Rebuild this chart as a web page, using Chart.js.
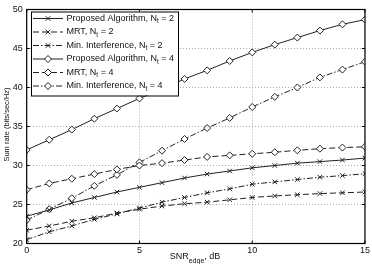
<!DOCTYPE html>
<html><head><meta charset="utf-8">
<script src="https://cdn.jsdelivr.net/npm/chart.js@4/dist/chart.umd.min.js"></script>
<style>html,body{margin:0;padding:0;background:#fff}#wrap{width:372px;height:264px}</style>
</head><body><div id="wrap"><canvas id="c" width="372" height="264"></canvas></div>
<script>
const snr = [0,1,2,3,4,5,6,7,8,9,10,11,12,13,14,15];
const propN2 = [23.5,24.3,25.2,25.9,26.6,27.2,27.8,28.4,28.9,29.3,29.7,30.0,30.3,30.5,30.7,30.95];
const mrtN2 = [21.7,22.25,22.85,23.3,23.9,24.4,24.8,25.1,25.3,25.6,25.9,26.1,26.25,26.4,26.5,26.6];
const minIntN2 = [20.5,21.5,22.25,23.1,23.8,24.55,25.3,25.9,26.5,27.0,27.6,27.9,28.2,28.5,28.7,28.95];
const propN4 = [32.0,33.3,34.6,36.0,37.3,38.6,39.8,41.1,42.2,43.4,44.5,45.5,46.4,47.3,48.1,48.7];
const mrtN4 = [26.9,27.7,28.3,28.9,29.5,30.0,30.3,30.7,31.1,31.3,31.5,31.7,31.95,32.15,32.3,32.4];
const minIntN4 = [23.0,24.4,25.8,27.4,28.8,30.4,31.9,33.4,34.8,36.1,37.5,38.8,40.0,41.3,42.3,43.3];
const xTicks = [0,5,10,15];
const yTicks = [20,25,30,35,40,45,50];
const seriesNames = ['Proposed Algorithm, N','MRT, N','Min. Interference, N','Proposed Algorithm, N','MRT, N','Min. Interference, N'];
const seriesNt = ['2','2','2','4','4','4'];
const xTitle = ['SNR','edge',', dB'];
const yTitle = 'Sum rate (bits/sec/Hz)';

const LINE = '#222';
const FONT = '"Liberation Sans", Arial, sans-serif';
const dashes = [[], [6,3], [6,2,1.5,2]];
function mk(data, i) {
  const n4 = i >= 3;
  return {
    label: seriesNames[i] + seriesNt[i],
    data: snr.map((x, k) => ({x: x, y: data[k]})),
    borderColor: LINE, backgroundColor: '#fff',
    borderWidth: 1, borderDash: dashes[i % 3],
    pointStyle: n4 ? 'rectRot' : 'crossRot',
    pointRadius: n4 ? 3.5 : 3.2,
    pointBorderColor: LINE, pointBackgroundColor: '#fff', pointBorderWidth: 1,
    tension: 0, fill: false
  };
}
const all = [propN2, mrtN2, minIntN2, propN4, mrtN4, minIntN4];

function drawMarker(ctx, style, x, y, r) {
  ctx.save();
  ctx.setLineDash([]);
  ctx.beginPath();
  if (style === 'rectRot') {
    ctx.moveTo(x, y - r); ctx.lineTo(x + r, y); ctx.lineTo(x, y + r); ctx.lineTo(x - r, y); ctx.closePath();
    ctx.fillStyle = '#fff'; ctx.fill(); ctx.stroke();
  } else {
    const d = r * Math.SQRT1_2;
    ctx.moveTo(x - d, y - d); ctx.lineTo(x + d, y + d);
    ctx.moveTo(x + d, y - d); ctx.lineTo(x - d, y + d);
    ctx.stroke();
  }
  ctx.restore();
}

const deco = {
  id: 'deco',
  afterDatasetsDraw(chart) {
    const ctx = chart.ctx, a = chart.chartArea;
    const xs = chart.scales.x, ys = chart.scales.y;
    ctx.save();
    ctx.strokeStyle = '#000'; ctx.lineWidth = 1.2; ctx.setLineDash([]);
    ctx.strokeRect(a.left, a.top, a.right - a.left, a.bottom - a.top);
    ctx.lineWidth = 1;
    ctx.beginPath();
    xTicks.forEach(v => { const px = xs.getPixelForValue(v);
      ctx.moveTo(px, a.bottom); ctx.lineTo(px, a.bottom - 3);
      ctx.moveTo(px, a.top); ctx.lineTo(px, a.top + 3); });
    yTicks.forEach(v => { const py = ys.getPixelForValue(v);
      ctx.moveTo(a.left, py); ctx.lineTo(a.left + 3, py);
      ctx.moveTo(a.right, py); ctx.lineTo(a.right - 3, py); });
    ctx.stroke();
    // legend
    const bx = 31, by = 11.5, bw = 147, bh = 84;
    ctx.fillStyle = '#fff'; ctx.fillRect(bx, by, bw, bh);
    ctx.strokeStyle = '#000'; ctx.lineWidth = 1; ctx.strokeRect(bx + 0.5, by + 0.5, bw, bh);
    chart.data.datasets.forEach((ds, i) => {
      const yy = 18.5 + i * 13.5;
      ctx.strokeStyle = LINE; ctx.lineWidth = 1;
      ctx.setLineDash(ds.borderDash);
      ctx.beginPath(); ctx.moveTo(33, yy); ctx.lineTo(63, yy); ctx.stroke();
      drawMarker(ctx, ds.pointStyle, 48, yy, ds.pointRadius);
      ctx.fillStyle = '#111'; ctx.textBaseline = 'middle'; ctx.textAlign = 'left';
      ctx.font = '9px ' + FONT;
      const t1 = seriesNames[i];
      ctx.fillText(t1, 66.5, yy);
      let w = ctx.measureText(t1).width;
      ctx.font = '6.5px ' + FONT;
      ctx.fillText('t', 66.5 + w, yy + 2.8);
      const w2 = ctx.measureText('t').width;
      ctx.font = '9px ' + FONT;
      ctx.fillText(' = ' + seriesNt[i], 66.5 + w + w2, yy);
    });
    // x title
    ctx.fillStyle = '#111'; ctx.textBaseline = 'alphabetic'; ctx.textAlign = 'left';
    ctx.font = '9px ' + FONT;
    const w0 = ctx.measureText(xTitle[0]).width;
    ctx.font = '7px ' + FONT;
    const w1 = ctx.measureText(xTitle[1]).width;
    ctx.font = '9px ' + FONT;
    const w2 = ctx.measureText(xTitle[2]).width;
    let sx = 195 - (w0 + w1 + w2) / 2;
    ctx.fillText(xTitle[0], sx, 259);
    ctx.font = '7px ' + FONT; ctx.fillText(xTitle[1], sx + w0, 263);
    ctx.font = '9px ' + FONT; ctx.fillText(xTitle[2], sx + w0 + w1, 259);
    // y title
    ctx.translate(7, 124.5); ctx.rotate(-Math.PI / 2);
    ctx.textAlign = 'center'; ctx.textBaseline = 'middle';
    ctx.font = '7.5px ' + FONT;
    ctx.fillText(yTitle, 0, 0);
    ctx.restore();
  }
};

new Chart(document.getElementById('c'), {
  type: 'line',
  data: { datasets: all.map(mk) },
  options: {
    responsive: false, animation: false, devicePixelRatio: 1,
    layout: { padding: { top: 9.5, right: 5.5, left: 0, bottom: 0 } },
    plugins: { legend: { display: false }, tooltip: { enabled: false } },
    scales: {
      x: { type: 'linear', min: 0, max: 15,
        afterBuildTicks: s => { s.ticks = xTicks.map(v => ({value: v})); },
        afterFit: s => { s.height = 20.5; },
        border: { display: false, dash: [1, 2] },
        grid: { color: '#999', lineWidth: 0.8, drawTicks: false, tickLength: 0 },
        ticks: { color: '#111', font: { size: 9, family: FONT }, padding: 2, maxRotation: 0 } },
      y: { min: 20, max: 50,
        afterBuildTicks: s => { s.ticks = yTicks.map(v => ({value: v})); },
        afterFit: s => { s.width = 26.7; },
        border: { display: false, dash: [1, 2] },
        grid: { color: '#999', lineWidth: 0.8, drawTicks: false, tickLength: 0 },
        ticks: { color: '#111', font: { size: 9, family: FONT }, padding: 4 } }
    }
  },
  plugins: [deco]
});
</script></body></html>
